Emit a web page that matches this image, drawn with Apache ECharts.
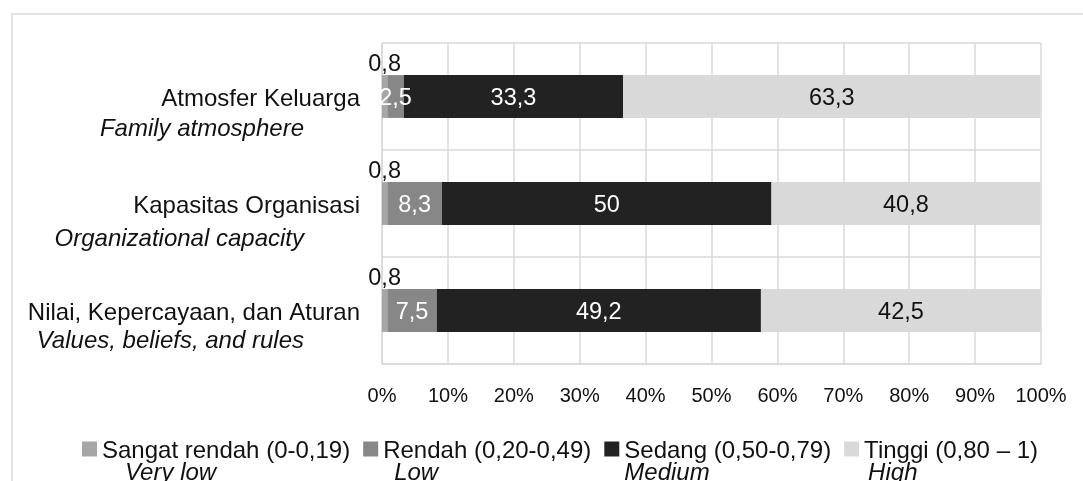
<!DOCTYPE html>
<html>
<head>
<meta charset="utf-8">
<script src="https://cdn.jsdelivr.net/npm/echarts@6/dist/echarts.min.js"></script>
<style>
  html, body { margin: 0; padding: 0; background: #fff; }
  #chart { width: 1083px; height: 481px; }
</style>
</head>
<body>
<div id="chart"></div>
<script>
// Dimension categories (Indonesian with English gloss)
const categories = ['Atmosfer Keluarga', 'Kapasitas Organisasi', 'Nilai, Kepercayaan, dan Aturan'];
const categoriesEn = ['Family atmosphere', 'Organizational capacity', 'Values, beliefs, and rules'];

// Level names for the legend
const levelNames = ['Sangat rendah (0-0,19)', 'Rendah (0,20-0,49)', 'Sedang (0,50-0,79)', 'Tinggi (0,80 \u2013 1)'];
const levelNamesEn = ['Very low', 'Low', 'Medium', 'High'];

// Percentages per level, one value per category
const sangatRendah = [0.8, 0.8, 0.8];
const rendah = [2.5, 8.3, 7.5];
const sedang = [33.3, 50, 49.2];
const tinggi = [63.3, 40.8, 42.5];

// Axis ticks
const axisMin = 0;
const axisMax = 100;
const axisStep = 10;

const FONT = "'Liberation Sans', Arial, sans-serif";
const GRID_COLOR = '#d9d9d9';
const colors = ['#a6a6a6', '#878787', '#222222', '#d9d9d9'];
const labelColors = ['#111', '#fff', '#fff', '#111'];

// spacing between main label line and its English gloss, per category
const glossGap = [30, 33, 28.5];
// left offset of the English gloss under each legend entry
const legendGlossPad = [23, 11, 0, 4];

const fmt = v => String(v).replace('.', ',');

const yRich = { m: { fontFamily: FONT, fontSize: 24, color: '#111', lineHeight: 24, align: 'right', verticalAlign: 'middle' } };
categories.forEach((c, i) => {
  const h = 2 * glossGap[i] - 24;
  // spacer a little taller than the gloss line pushes the main line slightly below the tick
  yRich['s' + i] = { fontSize: 10, lineHeight: h + 5, align: 'right', verticalAlign: 'middle' };
  yRich['e' + i] = { fontFamily: FONT, fontSize: 24, fontStyle: 'italic', color: '#111', lineHeight: h,
                     align: 'right', verticalAlign: 'middle', padding: [0, 56, 0, 0] };
});

const legendRich = {
  s: { fontSize: 10, lineHeight: 24, verticalAlign: 'middle' },
  n: { fontFamily: FONT, fontSize: 24, color: '#111', lineHeight: 24, verticalAlign: 'middle' }
};
levelNamesEn.forEach((e, i) => {
  legendRich['e' + i] = { fontFamily: FONT, fontSize: 24, fontStyle: 'italic', color: '#111', lineHeight: 20,
                          verticalAlign: 'middle', padding: [0, 0, 0, legendGlossPad[i]] };
});

const levelData = [sangatRendah, rendah, sedang, tinggi];

const series = levelData.map((data, i) => ({
  name: levelNames[i],
  type: 'bar',
  stack: 'total',
  barWidth: '40%',
  data: data,
  itemStyle: { color: colors[i] },
  label: {
    show: true,
    position: i === 0 ? 'top' : 'inside',
    distance: i === 0 ? 2 : 5,
    offset: i === 0 ? [0, 3] : [0, 2],
    formatter: p => fmt(p.value),
    fontFamily: FONT,
    fontSize: 23.5,
    color: labelColors[i]
  },
  emphasis: { disabled: true }
}));

const chart = echarts.init(document.getElementById('chart'), null, { renderer: 'canvas' });
chart.setOption({
  animation: false,
  backgroundColor: '#fff',
  color: colors,
  graphic: [{
    type: 'rect',
    z: -1,
    shape: { x: 12, y: 14, width: 1200, height: 600 },
    style: { fill: 'none', stroke: GRID_COLOR, lineWidth: 1.5 }
  }],
  grid: { left: 382, right: 42, top: 43, bottom: 117, containLabel: false, outerBoundsMode: 'none' },
  xAxis: {
    type: 'value',
    min: axisMin,
    max: axisMax,
    interval: axisStep,
    axisLine: { show: true, lineStyle: { color: GRID_COLOR, width: 1.5 } },
    axisTick: { show: false },
    splitLine: { show: true, lineStyle: { color: GRID_COLOR, width: 1.5 } },
    axisLabel: { formatter: '{value}%', fontFamily: FONT, fontSize: 20, color: '#111', margin: 22 }
  },
  yAxis: {
    type: 'category',
    inverse: true,
    data: categories,
    axisLine: { show: true, lineStyle: { color: GRID_COLOR, width: 1.5 } },
    axisTick: { show: false },
    splitLine: { show: true, lineStyle: { color: GRID_COLOR, width: 1.5 } },
    axisLabel: {
      margin: 22,
      formatter: (v, i) => `{s${i}| }\n{m|${v}}\n{e${i}|${categoriesEn[i]}}`,
      rich: yRich
    }
  },
  legend: {
    left: 82,
    top: 422,
    padding: 0,
    itemGap: 13,
    itemWidth: 15,
    itemHeight: 15,
    icon: 'rect',
    selectedMode: false,
    data: levelNames,
    formatter: name => {
      const i = levelNames.indexOf(name);
      return `{s| }\n{n|${name}}\n{e${i}|${levelNamesEn[i]}}`;
    },
    textStyle: { rich: legendRich }
  },
  series: series
});
</script>
</body>
</html>
